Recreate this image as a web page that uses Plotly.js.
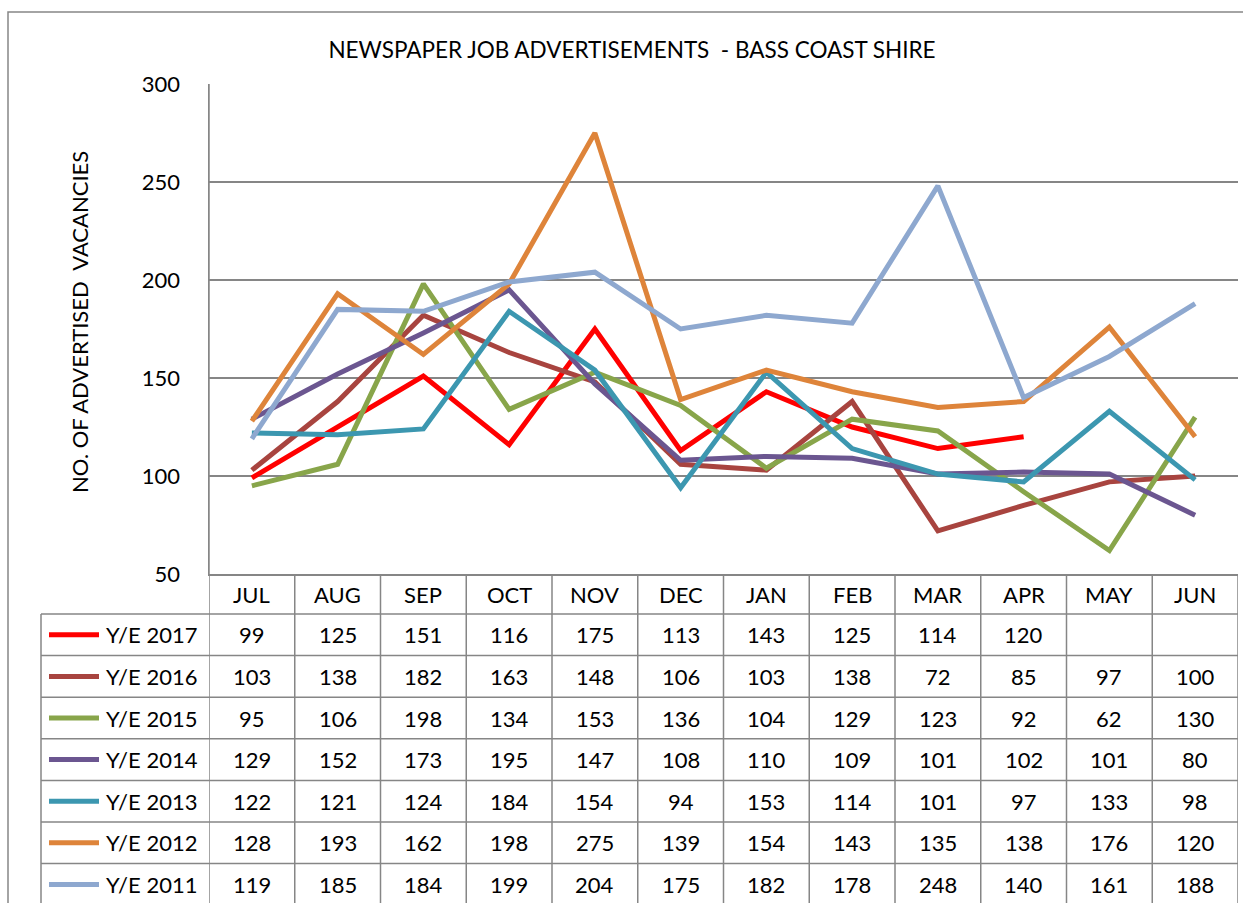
<!DOCTYPE html>
<html>
<head>
<meta charset="utf-8">
<script src="https://cdn.plot.ly/plotly-3.0.1.min.js"></script>
<style>
  html, body { margin: 0; padding: 0; background: #ffffff; }
  #chart { width: 1243px; height: 903px; }
</style>
</head>
<body>
<div id="chart"></div>
<script>
// ---- Data ----
const months = ['JUL', 'AUG', 'SEP', 'OCT', 'NOV', 'DEC', 'JAN', 'FEB', 'MAR', 'APR', 'MAY', 'JUN'];
const seriesNames = ['Y/E 2017', 'Y/E 2016', 'Y/E 2015', 'Y/E 2014', 'Y/E 2013', 'Y/E 2012', 'Y/E 2011'];
const ye2017 = [99, 125, 151, 116, 175, 113, 143, 125, 114, 120, null, null];
const ye2016 = [103, 138, 182, 163, 148, 106, 103, 138, 72, 85, 97, 100];
const ye2015 = [95, 106, 198, 134, 153, 136, 104, 129, 123, 92, 62, 130];
const ye2014 = [129, 152, 173, 195, 147, 108, 110, 109, 101, 102, 101, 80];
const ye2013 = [122, 121, 124, 184, 154, 94, 153, 114, 101, 97, 133, 98];
const ye2012 = [128, 193, 162, 198, 275, 139, 154, 143, 135, 138, 176, 120];
const ye2011 = [119, 185, 184, 199, 204, 175, 182, 178, 248, 140, 161, 188];
const yTicks = [50, 100, 150, 200, 250, 300];
const chartTitle = 'NEWSPAPER JOB ADVERTISEMENTS\u00a0\u00a0- BASS COAST SHIRE';
const yTitle = 'NO. OF ADVERTISED\u00a0\u00a0VACANCIES';

// ---- Styles ----
const seriesValues = [ye2017, ye2016, ye2015, ye2014, ye2013, ye2012, ye2011];
const colors = ['#FF0000', '#A8443F', '#88A54A', '#6B5690', '#3C97B0', '#DE843A', '#8EA8CF'];
const FONT = 'Lato, "Open Sans", sans-serif';
const GRID = '#868686';

// layout geometry (pixels)
const W = 1243, H = 903;
const plotL = 209, plotR = 1238, plotT = 84, plotB = 574;
const plotW = plotR - plotL, plotH = plotB - plotT;
const px2x = p => (p - plotL) / plotW;
const py2y = p => (plotB - p) / plotH;
const headerBottom = 614, rowH = 41.6;
const tableLeft = 41;

const traces = seriesValues.map((vals, i) => ({
  type: 'scatter',
  mode: 'lines',
  x: months,
  y: vals,
  name: seriesNames[i],
  line: { color: colors[i], width: 5 },
  connectgaps: false,
  hoverinfo: 'skip'
}));

const shapes = [];
const annotations = [];

// outer chart border
shapes.push({ type: 'rect', xref: 'paper', yref: 'paper',
  x0: px2x(8), x1: px2x(1300), y0: py2y(960), y1: py2y(12),
  line: { color: GRID, width: 1.5 }, fillcolor: 'rgba(0,0,0,0)', layer: 'below' });

// table vertical lines (category boundaries)
for (let k = 0; k <= months.length; k++) {
  shapes.push({ type: 'line', xref: 'x', yref: 'paper',
    x0: k - 0.5, x1: k - 0.5, y0: py2y(k === 0 ? plotT : plotB), y1: py2y(H + 20),
    line: { color: GRID, width: 1.5 } });
}
// table left edge
shapes.push({ type: 'line', xref: 'paper', yref: 'paper',
  x0: px2x(tableLeft), x1: px2x(tableLeft), y0: py2y(headerBottom), y1: py2y(H + 20),
  line: { color: GRID, width: 1.5 } });
// table horizontal lines
for (let r = 0; r <= seriesNames.length; r++) {
  const yy = headerBottom + r * rowH;
  shapes.push({ type: 'line', xref: 'paper', yref: 'paper',
    x0: px2x(tableLeft), x1: px2x(plotR), y0: py2y(yy), y1: py2y(yy),
    line: { color: GRID, width: 1.5 } });
}

// header labels
months.forEach((m, c) => {
  annotations.push({ x: c, y: py2y((plotB + headerBottom) / 2), xref: 'x', yref: 'paper',
    text: m, showarrow: false, xanchor: 'center', yanchor: 'middle',
    font: { family: FONT, size: 22, color: '#000' } });
});

// rows: legend keys, labels, values
seriesNames.forEach((name, r) => {
  const cy = headerBottom + r * rowH + rowH / 2;
  shapes.push({ type: 'line', xref: 'paper', yref: 'paper',
    x0: px2x(49), x1: px2x(99), y0: py2y(cy), y1: py2y(cy),
    line: { color: colors[r], width: 5 } });
  annotations.push({ x: px2x(104), y: py2y(cy), xref: 'paper', yref: 'paper',
    text: name, showarrow: false, xanchor: 'left', yanchor: 'middle',
    font: { family: FONT, size: 22, color: '#000' } });
  seriesValues[r].forEach((v, c) => {
    if (v === null) return;
    annotations.push({ x: c, y: py2y(cy), xref: 'x', yref: 'paper',
      text: String(v), showarrow: false, xanchor: 'center', yanchor: 'middle',
      font: { family: FONT, size: 22, color: '#000' } });
  });
});

// y axis title
annotations.push({ x: px2x(79), y: py2y(322), xref: 'paper', yref: 'paper',
  text: yTitle, textangle: -90, showarrow: false, xanchor: 'center', yanchor: 'middle',
  font: { family: FONT, size: 22, color: '#000' } });

const layout = {
  width: W, height: H,
  margin: { l: plotL, r: W - plotR, t: plotT, b: H - plotB, pad: 0 },
  paper_bgcolor: '#ffffff', plot_bgcolor: '#ffffff',
  showlegend: false,
  title: { text: chartTitle, x: 632 / W, xref: 'container', xanchor: 'center',
    y: 1 - 50 / H, yref: 'container', yanchor: 'middle',
    font: { family: FONT, size: 22.5, color: '#000' } },
  xaxis: {
    type: 'category', categoryarray: months, range: [-0.5, months.length - 0.5],
    showticklabels: false, ticks: '', showgrid: false, zeroline: false,
    showline: true, linecolor: GRID, linewidth: 1.5, fixedrange: true
  },
  yaxis: {
    range: [50, 300], tickvals: yTicks, ticktext: yTicks.map(String),
    showgrid: true, gridcolor: GRID, gridwidth: 1.5, zeroline: false,
    showline: true, linecolor: GRID, linewidth: 1.5,
    ticks: 'outside', ticklen: 23, tickcolor: 'rgba(0,0,0,0)',
    tickfont: { family: FONT, size: 22, color: '#000' }, fixedrange: true
  },
  shapes: shapes,
  annotations: annotations
};

Plotly.newPlot('chart', traces, layout, { displayModeBar: false, staticPlot: true });
</script>
</body>
</html>
